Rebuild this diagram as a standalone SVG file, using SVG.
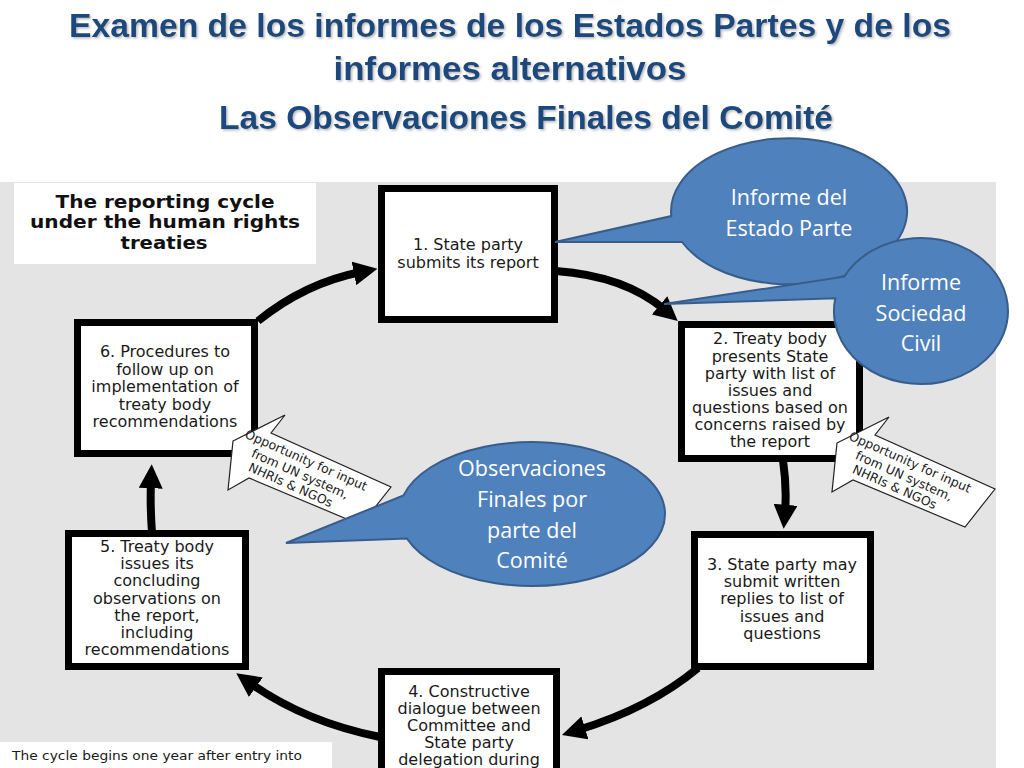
<svg xmlns="http://www.w3.org/2000/svg" width="1024" height="768" viewBox="0 0 1024 768">
<defs>
<marker id="ah" viewBox="0 0 10 10" refX="3" refY="5" markerWidth="3" markerHeight="3" orient="auto" markerUnits="strokeWidth">
<path d="M0,0 L10,5 L0,10 z" fill="#000"/>
</marker>
<filter id="shadow" x="-5%" y="-20%" width="110%" height="150%">
<feDropShadow dx="1.5" dy="1.5" stdDeviation="1" flood-color="#7f7f7f" flood-opacity="0.55"/>
</filter>
</defs>
<style>
.title{font-family:"Liberation Sans",Arial,sans-serif;font-weight:bold;fill:#1f497d;text-anchor:middle}
.box rect{fill:#fff;stroke:#000;stroke-width:7}
.bt{font-family:"DejaVu Sans",Verdana,sans-serif;font-size:16px;fill:#1a1a1a;text-anchor:middle}
.hd{font-family:"DejaVu Sans",Verdana,sans-serif;font-weight:bold;font-size:18.5px;fill:#111;text-anchor:middle}
.co polygon{fill:#fff;stroke:#222;stroke-width:1.2}
.ct{font-family:"DejaVu Sans",Verdana,sans-serif;font-size:12.5px;fill:#1a1a1a;text-anchor:middle}
.bub path{fill:#4f81bd;stroke:#385d8a;stroke-width:2}
.bw{font-family:"Open Sans","Liberation Sans",sans-serif;font-size:21.5px;fill:#fff;text-anchor:middle}
.conn path{fill:none;stroke:#000;stroke-width:8;marker-end:url(#ah)}
.note{font-family:"DejaVu Sans",Tahoma,sans-serif;font-size:12.5px;fill:#1a1a1a}
</style>
<rect x="0" y="0" width="1024" height="768" fill="#fff"/>
<g id="title" filter="url(#shadow)">
<text class="title" font-size="33" x="510" y="37" textLength="882" lengthAdjust="spacingAndGlyphs">Examen de los informes de los Estados Partes y de los</text>
<text class="title" font-size="33" x="510" y="80" textLength="353" lengthAdjust="spacingAndGlyphs">informes alternativos</text>
<text class="title" font-size="33" x="526" y="129" textLength="614" lengthAdjust="spacingAndGlyphs">Las Observaciones Finales del Comité</text>
</g>
<rect id="panel" x="0" y="182" width="996" height="586" fill="#e4e4e4"/>
<g id="heading">
<rect x="14" y="183" width="302" height="81" fill="#fff"/>
<text class="hd" x="165" y="208" textLength="219" lengthAdjust="spacingAndGlyphs">The reporting cycle</text>
<text class="hd" x="165" y="228" textLength="270" lengthAdjust="spacingAndGlyphs">under the human rights</text>
<text class="hd" x="164" y="249" textLength="87" lengthAdjust="spacingAndGlyphs">treaties</text>
</g>
<g id="connectors" class="conn">
<path d="M258,321 Q305,283 361,272"/>
<path d="M556,271 Q625,276 665,310"/>
<path d="M783,460 Q787,488 785,512"/>
<path d="M698,668 Q650,708 578,730"/>
<path d="M380,737 Q305,722 250,683"/>
<path d="M152,533 Q150,505 151,481"/>
</g>
<g id="node1" class="box">
<rect x="381.5" y="188.5" width="173" height="131"/>
<text class="bt" x="468" y="250">1. State party</text>
<text class="bt" x="468" y="268">submits its report</text>
</g>
<g id="node2" class="box">
<rect x="681.5" y="324.5" width="178" height="134"/>
<text class="bt" x="770" y="344">2. Treaty body</text>
<text class="bt" x="770" y="362">presents State</text>
<text class="bt" x="770" y="379">party with list of</text>
<text class="bt" x="770" y="396">issues and</text>
<text class="bt" x="770" y="413">questions based on</text>
<text class="bt" x="770" y="430">concerns raised by</text>
<text class="bt" x="770" y="447">the report</text>
</g>
<g id="node3" class="box">
<rect x="694.5" y="534.5" width="176" height="132"/>
<text class="bt" x="782" y="570">3. State party may</text>
<text class="bt" x="782" y="587">submit written</text>
<text class="bt" x="782" y="604">replies to list of</text>
<text class="bt" x="782" y="622">issues and</text>
<text class="bt" x="782" y="639">questions</text>
</g>
<g id="node4" class="box">
<rect x="381.5" y="671.5" width="175" height="130"/>
<text class="bt" x="469" y="697">4. Constructive</text>
<text class="bt" x="469" y="714">dialogue between</text>
<text class="bt" x="469" y="731">Committee and</text>
<text class="bt" x="469" y="748">State party</text>
<text class="bt" x="469" y="765">delegation during</text>
</g>
<g id="node5" class="box">
<rect x="68.5" y="533.5" width="177" height="133"/>
<text class="bt" x="157" y="552">5. Treaty body</text>
<text class="bt" x="157" y="569">issues its</text>
<text class="bt" x="157" y="586">concluding</text>
<text class="bt" x="157" y="604">observations on</text>
<text class="bt" x="157" y="621">the report,</text>
<text class="bt" x="157" y="638">including</text>
<text class="bt" x="157" y="655">recommendations</text>
</g>
<g id="node6" class="box">
<rect x="77.5" y="322.5" width="177" height="131"/>
<text class="bt" x="165" y="357">6. Procedures to</text>
<text class="bt" x="165" y="375">follow up on</text>
<text class="bt" x="165" y="392">implementation of</text>
<text class="bt" x="165" y="410">treaty body</text>
<text class="bt" x="165" y="427">recommendations</text>
</g>
<g id="input-left" class="co">
<polygon points="233,441 285,415 271,433 391,487 361,525 249,478 228,490"/>
<g transform="translate(296,468) rotate(24)">
<text class="ct" x="6" y="-7">Opportunity for input</text>
<text class="ct" x="6" y="8">from UN system,</text>
<text class="ct" x="2" y="22">NHRIs &amp; NGOs</text>
</g>
</g>
<g id="input-right" class="co">
<polygon points="837,443 889,417 875,435 995,489 965,527 853,480 832,492"/>
<g transform="translate(900,470) rotate(24)">
<text class="ct" x="6" y="-7">Opportunity for input</text>
<text class="ct" x="6" y="8">from UN system,</text>
<text class="ct" x="2" y="22">NHRIs &amp; NGOs</text>
</g>
</g>
<g id="bubble-estado" class="bub">
<path d="M671.3,216.1 A118,73 0 1,1 682,242 L555,242 Z"/>
<text class="bw" x="789" y="205">Informe del</text>
<text class="bw" x="789" y="236">Estado Parte</text>
</g>
<g id="bubble-sociedad" class="bub">
<path d="M844.2,276.7 A87,73 0 1,1 835.3,298.3 L664,304 Z"/>
<text class="bw" x="921" y="290">Informe</text>
<text class="bw" x="921" y="321">Sociedad</text>
<text class="bw" x="921" y="351">Civil</text>
</g>
<g id="bubble-observaciones" class="bub">
<path d="M403.5,495.4 A133,72 0 1,1 407,538.6 L286,543 Z"/>
<text class="bw" x="532" y="476">Observaciones</text>
<text class="bw" x="532" y="507">Finales por</text>
<text class="bw" x="532" y="538">parte del</text>
<text class="bw" x="532" y="568">Comité</text>
</g>
<g id="note">
<rect x="0" y="742" width="332" height="30" fill="#fff"/>
<text class="note" x="12" y="760" textLength="290" lengthAdjust="spacingAndGlyphs">The cycle begins one year after entry into</text>
</g>
</svg>
